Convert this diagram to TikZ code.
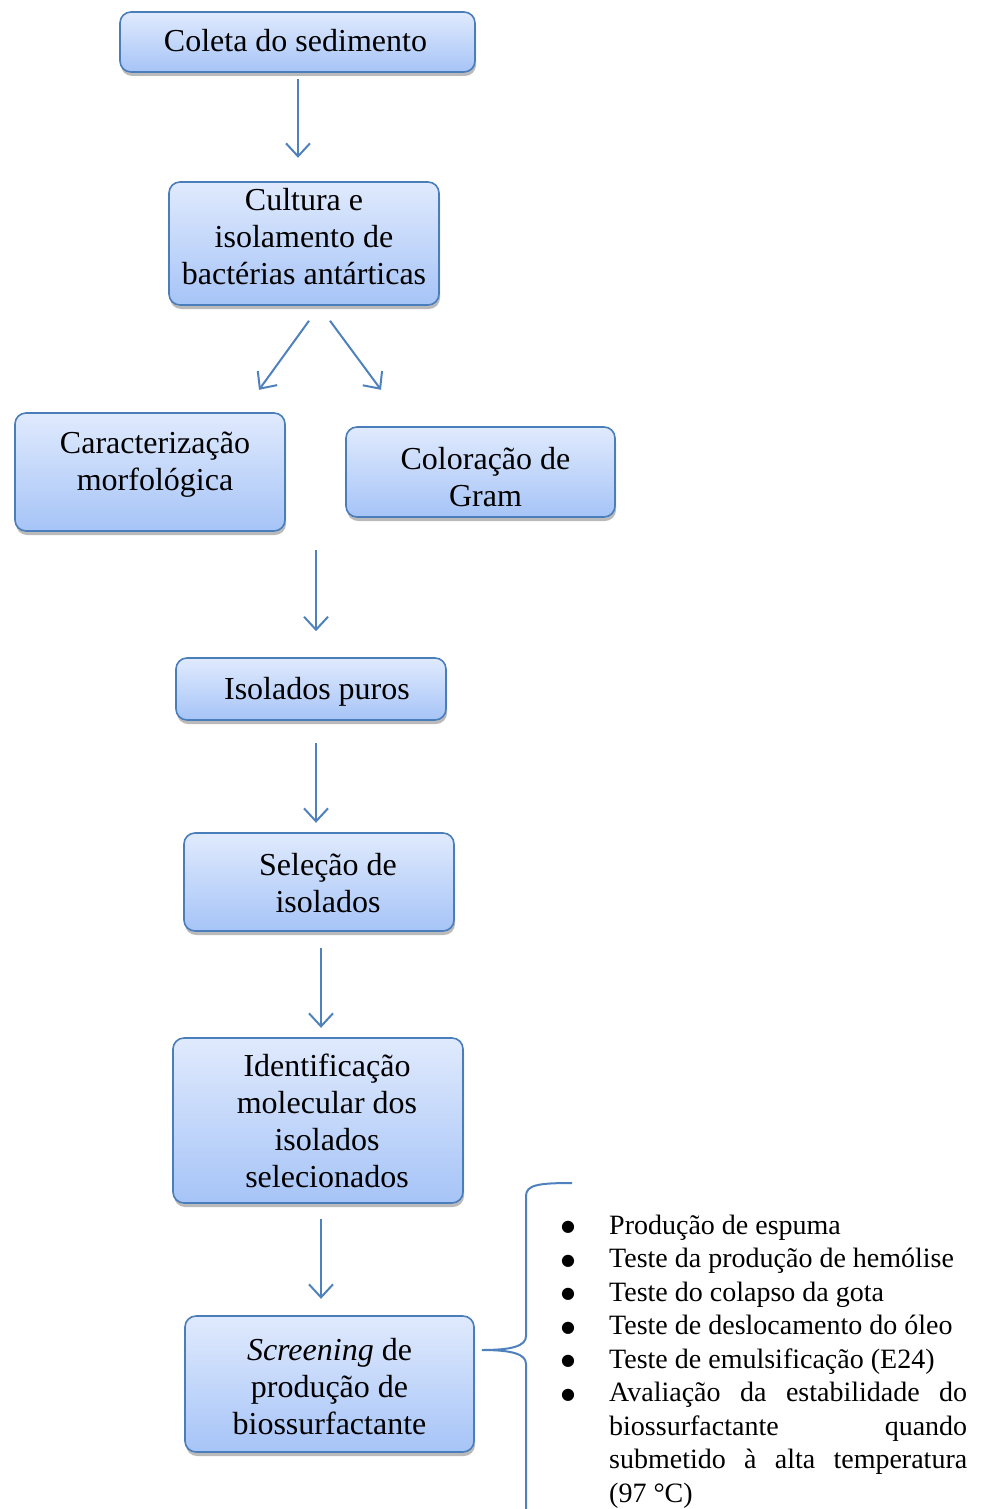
\documentclass[tikz,border=0pt]{standalone}
\usepackage{fontspec}
\setmainfont{Liberation Serif}
\newfontfamily\simbolos{DejaVu Sans}
\usetikzlibrary{arrows.meta,shadows}
\definecolor{boxedge}{HTML}{4A7EBB}
\definecolor{boxtop}{HTML}{E0EAFD}
\definecolor{boxbot}{HTML}{A6C4F7}
\definecolor{setaazul}{HTML}{4F81BD}
\newcommand{\marca}{\raisebox{2.5pt}{\simbolos\fontsize{16}{16}\selectfont ●}}

\begin{document}
\begin{tikzpicture}[x=1pt,y=-1pt,
        etapa/.style n args={3}{draw=boxedge, line width=1.6pt, rounded corners=11pt,
            top color=boxtop, bottom color=boxbot, align=center, inner sep=0pt,
            font=\fontsize{32}{37}\selectfont,
            execute at begin node={\leftskip=#1 plus 1fil\rightskip=0pt plus 1fil\parfillskip=0pt
                \spaceskip=\fontdimen2\font\rule{0pt}{\dimexpr26pt+#2\relax}},
            execute at end node={\rule[\dimexpr-11pt-#3\relax]{0pt}{0pt}},
            drop shadow={shadow xshift=1pt, shadow yshift=-4pt, fill=black!45, opacity=0.6}},
        seta/.style={draw=setaazul, line width=2pt, -{Straight Barb[length=13pt,width=24pt]}}]
        \useasboundingbox (0,0) rectangle (983,1509);

        \node[etapa={-4pt}{4pt}{0pt}, minimum width=355pt, minimum height=60pt, text width=335pt] (coleta) at (297.5,42) {Coleta do sedimento};
        \node[etapa={0pt}{0pt}{8pt}, minimum width=270pt, minimum height=123pt, text width=256pt] (cultura) at (304,243.5) {Cultura e\\isolamento de\\bactérias antárticas};
        \node[etapa={10pt}{0pt}{16pt}, minimum width=270pt, minimum height=118pt, text width=250pt] (caract) at (150,472) {Caracterização\\morfológica};
        \node[etapa={10pt}{16pt}{0pt}, minimum width=269pt, minimum height=90pt, text width=249pt] (gram) at (480.5,472) {Coloração de\\Gram};
        \node[etapa={12pt}{6pt}{0pt}, minimum width=270pt, minimum height=62pt, text width=250pt] (puros) at (311,689) {Isolados puros};
        \node[etapa={18pt}{8pt}{0pt}, minimum width=270pt, minimum height=98pt, text width=250pt] (selecao) at (319,882) {Seleção de\\isolados};
        \node[etapa={18pt}{8pt}{0pt}, minimum width=290pt, minimum height=165pt, text width=270pt] (ident) at (318,1120.5) {Identificação\\molecular dos\\isolados\\selecionados};
        \node[etapa={0pt}{12pt}{0pt}, minimum width=289pt, minimum height=136pt, text width=269pt] (screen) at (329.5,1384) {\textit{Screening} de\\produção de\\biossurfactante};

        \draw[seta] (coleta.south) ++(0.5,6) -- ++(0,79);
        \draw[seta] (cultura.south) ++(5,15) -- ++(-50,69);
        \draw[seta] (cultura.south) ++(26,15) -- ++(51,69);
        \draw[seta] (puros.north) ++(5,-107) -- ++(0,81);
        \draw[seta] (puros.south) ++(5,22) -- ++(0,80);
        \draw[seta] (selecao.south) ++(2,16) -- ++(0,80);
        \draw[seta] (ident.south) ++(3,15) -- ++(0,80);

        % chave
        \draw[draw=setaazul, line width=2pt] (572,1183) .. controls (538,1183) and (526,1185) .. (526,1196)
            -- (526,1336) .. controls (526,1346) and (512,1350) .. (482,1350)
            .. controls (512,1350) and (526,1354) .. (526,1364) -- (526,1515);

        \node[anchor=north west, text width=406pt, inner sep=0pt, align=justify,
            font=\fontsize{28}{33.5}\selectfont] (testes) at (561,1200.5) {%
            \hyphenpenalty=10000
            \begin{list}{\marca}{\leftmargin=48pt \labelwidth=14pt \labelsep=34pt
                \topsep=0pt \partopsep=0pt \itemsep=0pt \parsep=0pt}
            \item Produção de espuma
            \item Teste da produção de hemólise
            \item Teste do colapso da gota
            \item Teste de deslocamento do óleo
            \item Teste de emulsificação (E24)
            \item Avaliação da estabilidade do\linebreak biossurfactante quando\linebreak submetido à alta temperatura\linebreak (97 °C)
            \end{list}};
    \end{tikzpicture}
\end{document}
